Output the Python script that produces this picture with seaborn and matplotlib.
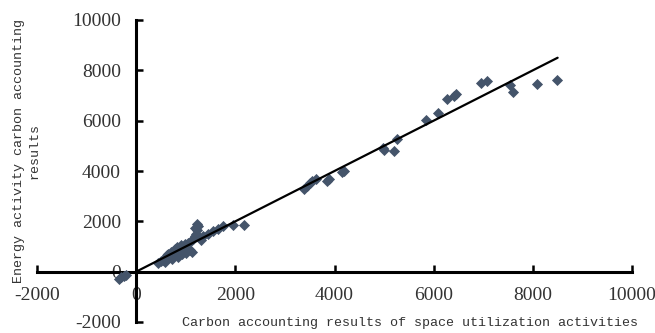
import seaborn as sns
import matplotlib.pyplot as plt
import pandas as pd
import numpy as np

# data
space_x = [-350, -300, -250, -200,
           450, 500, 550, 580, 600, 620, 650, 680, 700, 720, 750, 780, 800, 820,
           850, 880, 900, 920, 950, 980, 1000, 1020, 1050, 1080, 1100, 1120,
           1150, 1180, 1200, 1220, 1250, 1180, 1230, 1280, 1300, 1350, 1450,
           1550, 1650, 1750, 1950, 2170,
           3380, 3440, 3500, 3550, 3620, 3850, 3880, 4150, 4200,
           4970, 5000, 5210, 5260, 5850, 6080, 6260, 6420, 6460, 6960, 7080,
           7530, 7590, 8090, 8490]
energy_y = [-280, -220, -180, -120,
            350, 420, 480, 400, 550, 650, 720, 600, 780, 500, 650, 900, 700, 980,
            600, 850, 1050, 700, 800, 1100, 750, 900, 1150, 850, 1200, 800,
            1300, 1400, 1500, 1900, 1800, 1750, 1650, 1350, 1250, 1400, 1500,
            1600, 1700, 1820, 1850, 1850,
            3300, 3400, 3520, 3600, 3680, 3600, 3700, 3950, 4000,
            4900, 4850, 4780, 5260, 6030, 6300, 6870, 6980, 7040, 7510, 7590,
            7430, 7120, 7470, 7620]
trend_x = [0, 8500]
trend_y = [0, 8500]
ticks = [-2000, 0, 2000, 4000, 6000, 8000, 10000]

df = pd.DataFrame({'space': space_x, 'energy': energy_y})

sns.set_theme(style="white")
plt.rcParams['font.family'] = ['Liberation Serif', 'DejaVu Serif']

fig = plt.figure(figsize=(6.55, 3.33), dpi=100)
ax = fig.add_axes([37 / 655, 11 / 333, 595 / 655, 302 / 333])

sns.scatterplot(data=df, x='space', y='energy', marker='D', s=32,
                color='#44546A', linewidth=0, ax=ax, zorder=3)
sns.lineplot(x=trend_x, y=trend_y, color='black', linewidth=1.6, ax=ax, zorder=4)

ax.set_xlim(-2000, 10000)
ax.set_ylim(-2000, 10000)
ax.set_xticks(ticks)
ax.set_yticks(ticks)
ax.set_xticklabels([str(t) for t in ticks])
ax.set_yticklabels([str(t) for t in ticks])
ax.set_xlabel('')
ax.set_ylabel('')

for side in ['left', 'bottom']:
    ax.spines[side].set_position(('data', 0))
    ax.spines[side].set_linewidth(2.2)
    ax.spines[side].set_color('black')
ax.spines['top'].set_visible(False)
ax.spines['right'].set_visible(False)

ax.tick_params(axis='both', direction='in', length=5, width=1.8, color='black',
               labelsize=14, pad=11, labelcolor='#333333')
ax.xaxis.set_ticks_position('bottom')
ax.yaxis.set_ticks_position('left')

mono = ['Liberation Mono', 'DejaVu Sans Mono']
fig.text(410 / 655, 1 - 323 / 333,
         'Carbon accounting results of space utilization activities',
         ha='center', va='center', fontsize=9.6, family=mono, color='#333333')
fig.text(27 / 655, 1 - 151 / 333,
         'Energy activity carbon accounting\nresults',
         ha='center', va='center', rotation=90, multialignment='center',
         fontsize=9.6, family=mono, color='#333333', linespacing=1.35)

fig.savefig('out.png', dpi=100)
